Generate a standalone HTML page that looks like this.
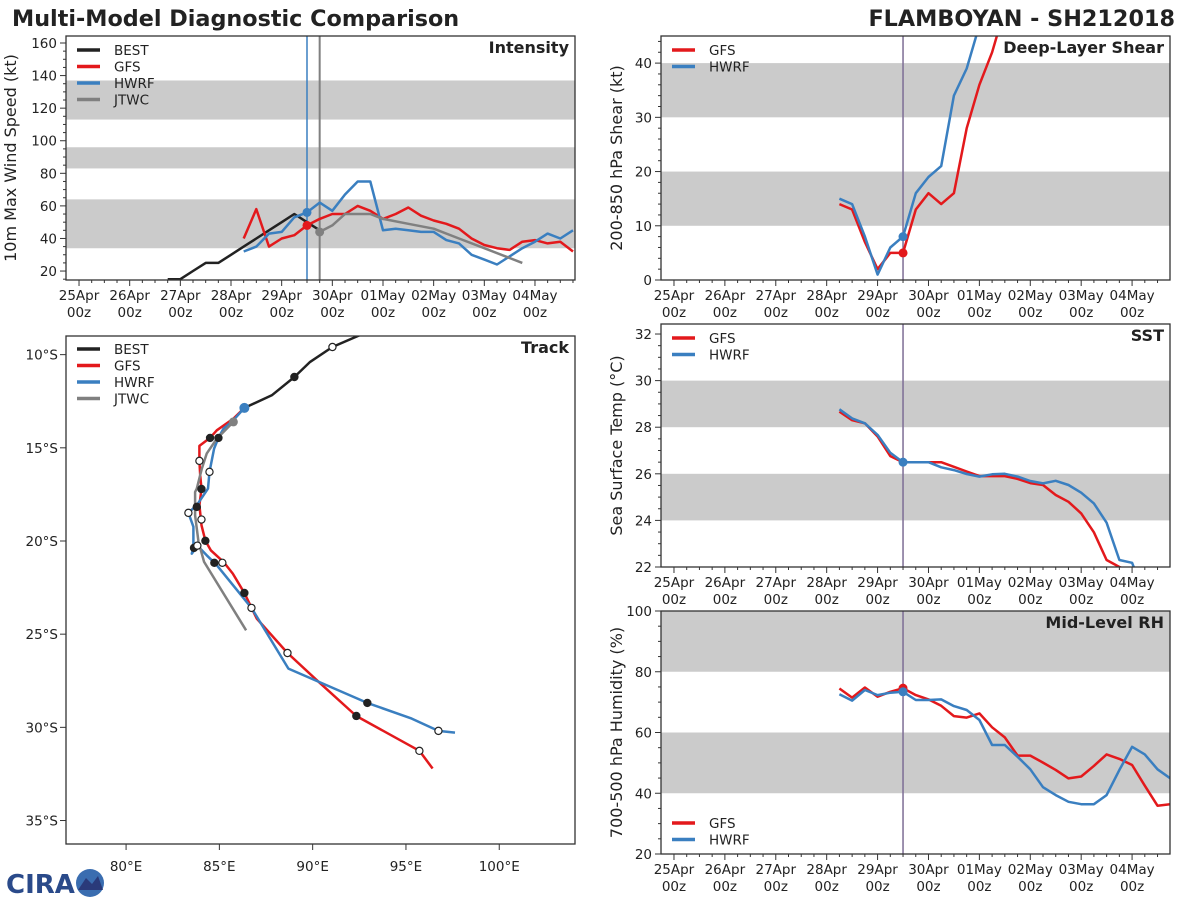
<!DOCTYPE html>
<html><head><meta charset="utf-8"><style>
html,body{margin:0;padding:0;background:#fff;width:1200px;height:900px;overflow:hidden}
svg text{font-family:"DejaVu Sans","Liberation Sans",sans-serif;fill:#222}
</style></head><body>
<svg id="chart" width="1200" height="900" viewBox="0 0 1200 900" xmlns="http://www.w3.org/2000/svg">
<text x="12" y="26" font-size="22.3" font-weight="bold">Multi-Model Diagnostic Comparison</text>
<text x="1175" y="26" font-size="22.3" font-weight="bold" text-anchor="end">FLAMBOYAN - SH212018</text>
<g>
<text x="6" y="893" font-size="26" font-weight="bold" style="fill:#2a4a8a" font-family="Liberation Serif,serif">CIRA</text>
<circle cx="90" cy="883" r="14" fill="#3a6db0"/>
<path d="M78 890 L86 878 L92 884 L98 876 L103 890 Z" fill="#2a3a7a"/>
</g>
</svg>
<script>
// ---------- Intensity data (days since 25Apr 00z) ----------
const bestT=[1.75,2.0,2.25,2.5,2.75,3.0,3.25,3.5,3.75,4.0,4.25,4.5,4.75];
const bestV=[15,15,20,25,25,30,35,40,45,50,55,50,45];
const gfsT=[3.25,3.5,3.75,4.0,4.25,4.5,4.75,5.0,5.25,5.5,5.75,6.0,6.25,6.5,6.75,7.0,7.25,7.5,7.75,8.0,8.25,8.5,8.75,9.0,9.25,9.5,9.75];
const gfsV=[40,58,35,40,42,48,52,55,55,60,57,52,55,59,54,51,49,46,40,36,34,33,38,39,37,38,32];
const hwrfT=gfsT;
const hwrfV=[32,35,43,44,53,56,62,57,67,75,75,45,46,45,44,44,39,37,30,27,24,29,34,38,43,40,45];
const jtwcT=[4.75,5.0,5.25,5.5,5.75,6.0,6.5,7.0,7.5,8.0,8.5,8.75];
const jtwcV=[44,48,55,55,55,52,49,46,40,34,28,25];
// ---------- Shear ----------
const shT=[3.25,3.5,3.75,4.0,4.25,4.5,4.75,5.0,5.25,5.5,5.75,6.0,6.25,6.5];
const shGfs=[14,13,7,2,5,5,13,16,14,16,28,36,42,50];
const shHwrf=[15,14,8,1,6,8,16,19,21,34,39,47,55,60];
// ---------- SST ----------
const sstT=[3.25,3.5,3.75,4.0,4.25,4.5,4.75,5.0,5.25,5.5,5.75,6.0,6.25,6.5,6.75,7.0,7.25,7.5,7.75,8.0,8.25,8.5,8.75,9.0,9.05];
const sstGfs=[28.67,28.3,28.17,27.6,26.76,26.5,26.5,26.5,26.5,26.3,26.1,25.9,25.9,25.9,25.78,25.6,25.52,25.09,24.8,24.3,23.49,22.3,22.0,21.8,21.8];
const sstHwrf=[28.77,28.38,28.17,27.67,26.9,26.5,26.5,26.5,26.28,26.16,25.99,25.88,25.98,26.0,25.88,25.69,25.59,25.7,25.52,25.19,24.73,23.9,22.3,22.18,21.9];
// ---------- RH ----------
const rhT=[3.25,3.5,3.75,4.0,4.25,4.5,4.75,5.0,5.25,5.5,5.75,6.0,6.25,6.5,6.75,7.0,7.25,7.5,7.75,8.0,8.25,8.5,8.75,9.0,9.25,9.5,9.75];
const rhGfs=[74.5,71.5,74.8,71.8,73.4,74.6,72.3,70.9,68.8,65.4,64.9,66.3,61.7,58.4,52.4,52.4,50.1,47.7,44.9,45.5,49,52.8,51.3,49.3,42.5,35.9,36.4];
const rhHwrf=[72.6,70.5,74,72.3,73.1,73.4,70.7,70.7,70.9,68.7,67.4,64.1,55.9,55.9,52,47.9,42,39.4,37.2,36.4,36.4,39.4,47.7,55.3,52.8,47.9,44.9];
// ---------- Track (lon E, lat S) ----------
const trkBestLon=[92.72,91.06,89.86,89.02,87.81,86.34];
const trkBestLat=[8.87,9.59,10.39,11.20,12.18,12.86];
const trkGfsLon=[86.34,85.75,84.86,84.50,83.93,83.93,83.97,84.04,83.93,84.04,84.25,84.54,85.22,85.72,86.34,87.00,88.65,90.22,92.34,95.72,96.43];
const trkGfsLat=[12.86,13.43,14.06,14.47,14.90,15.70,16.47,17.21,18.08,19.16,19.99,20.50,21.12,21.75,22.79,24.16,26.01,27.47,29.39,31.26,32.21];
const trkHwrfLon=[86.34,85.75,85.22,84.95,84.72,84.47,84.39,83.79,83.34,83.61,83.61,83.52,83.82,84.32,84.86,86.72,88.70,92.93,95.31,96.74,97.63];
const trkHwrfLat=[12.86,13.52,13.97,14.47,15.04,16.29,17.19,18.08,18.49,19.24,20.32,20.68,20.25,20.77,21.30,23.59,26.85,28.69,29.53,30.19,30.28];
const trkJtwcLon=[85.75,84.86,84.32,84.06,83.79,83.70,83.70,83.88,84.18,86.43];
const trkJtwcLat=[13.61,14.51,15.31,16.12,17.19,17.37,18.62,20.05,21.12,24.79];
const mkLon=[91.06,89.02,84.50,84.95,83.93,84.47,84.04,83.79,83.34,84.04,84.25,83.64,83.82,84.73,85.16,86.34,86.72,88.65,92.93,92.34,96.74,95.72];
const mkLat=[9.59,11.20,14.47,14.47,15.70,16.29,17.21,18.17,18.49,18.85,19.99,20.37,20.25,21.17,21.17,22.79,23.59,26.01,28.69,29.39,30.19,31.26];
const mkFilled=[0,1,1,1,0,0,1,1,0,0,1,1,0,1,0,1,0,0,1,1,0,0];
const dayLabels=["25Apr","26Apr","27Apr","28Apr","29Apr","30Apr","01May","02May","03May","04May"];

const svg=document.getElementById('chart');
const NS='http://www.w3.org/2000/svg';
function el(tag,attrs,parent){const e=document.createElementNS(NS,tag);for(const k in attrs)e.setAttribute(k,attrs[k]);(parent||svg).appendChild(e);return e;}
const C={best:'#222222',gfs:'#e3191c',hwrf:'#3a7fc0',jtwc:'#808080',band:'#cbcbcb'};

function makePanel(name,x0,y0,w,h,xmin,xmax,ymin,ymax){
  const g=el('g',{});
  
  
  const sx=v=>x0+(v-xmin)/(xmax-xmin)*w;
  const sy=v=>y0+h-(v-ymin)/(ymax-ymin)*h;
  return {g,sx,sy,x0,y0,w,h};
}
function clip(p,id){const cp=el('clipPath',{id:id});el('rect',{x:p.x0,y:p.y0,width:p.w,height:p.h},cp);return 'url(#'+id+')';}
function bands(p,list,cl){list.forEach(b=>{const r=el('rect',{x:p.x0,y:p.sy(b[1]),width:p.w,height:p.sy(b[0])-p.sy(b[1]),fill:C.band,'clip-path':cl},p.g);});}
function line(p,xs,ys,color,nm,cl,wdt){const d=xs.map((x,i)=>(i?'L':'M')+p.sx(x).toFixed(1)+' '+p.sy(ys[i]).toFixed(1)).join(' ');const e=el('path',{d:d,fill:'none',stroke:color,'stroke-width':wdt||2.5,'stroke-linejoin':'round','clip-path':cl},p.g);return e;}
function frame(p){const r=el('rect',{x:p.x0,y:p.y0,width:p.w,height:p.h,fill:'none',stroke:'#333','stroke-width':1.3},p.g);}
function timeAxis(p,labY){
  for(let d=0;d<=9.75;d+=0.25){const x=p.sx(d);if(x<p.x0||x>p.x0+p.w)continue;const maj=Math.abs(d-Math.round(d))<1e-6;el('line',{x1:x,x2:x,y1:p.y0+p.h,y2:p.y0+p.h+(maj?6:3),stroke:'#333'},p.g);}
  dayLabels.forEach((lb,i)=>{const x=p.sx(i);
    const t=el('text',{x:x,y:labY,'font-size':13.5,'text-anchor':'middle'},p.g);t.textContent=lb;
    const t2=el('text',{x:x,y:labY+17,'font-size':13.5,'text-anchor':'middle'},p.g);t2.textContent='00z';});
}
function yAxis(p,from,to,majStep,minStep,fmt){
  for(let v=from;v<=to+1e-6;v+=minStep){const y=p.sy(v);if(y<p.y0-0.5||y>p.y0+p.h+0.5)continue;const maj=Math.abs(v/majStep-Math.round(v/majStep))<1e-6;el('line',{x1:p.x0,x2:p.x0-(maj?6:3),y1:y,y2:y,stroke:'#333'},p.g);
    if(maj){const t=el('text',{x:p.x0-9,y:y+5,'font-size':13.5,'text-anchor':'end'},p.g);t.textContent=fmt?fmt(v):v;}}
}
function ylabel(p,txt,x){const t=el('text',{x:x,y:p.y0+p.h/2,'font-size':16,'text-anchor':'middle',transform:'rotate(-90 '+x+' '+(p.y0+p.h/2)+')'},p.g);t.textContent=txt;}
function ptitle(p,txt){const t=el('text',{x:p.x0+p.w-6,y:p.y0+17,'font-size':16,'font-weight':'bold','text-anchor':'end'},p.g);t.textContent=txt;}
function legend(p,items,y){items.forEach((it,i)=>{const yy=y+i*16.5;const l=el('line',{x1:p.x0+11,x2:p.x0+34,y1:yy,y2:yy,stroke:it[1],'stroke-width':3.5},p.g);const t=el('text',{x:p.x0+48,y:yy+5,'font-size':13.5},p.g);t.textContent=it[0];});}
function dot(p,x,y,color,r){const c=el('circle',{cx:p.sx(x),cy:p.sy(y),r:r||4.5,fill:color},p.g);}
function vline(p,d,color,w){const l=el('line',{x1:p.sx(d),x2:p.sx(d),y1:p.y0,y2:p.y0+p.h,stroke:color,'stroke-width':w||1.5},p.g);}

// Intensity
const pi=makePanel('intensity-panel',66,36,509,244,-0.257,9.79,14.5,164.3);
let ci=clip(pi,'ci');
bands(pi,[[34,64],[83,96],[113,137]],ci);
vline(pi,4.5,C.hwrf,1.5);vline(pi,4.75,C.jtwc,2);
line(pi,bestT,bestV,C.best,'best-intensity-line',ci);
line(pi,gfsT,gfsV,C.gfs,'gfs-intensity-line',ci);
line(pi,hwrfT,hwrfV,C.hwrf,'hwrf-intensity-line',ci);
line(pi,jtwcT,jtwcV,C.jtwc,'jtwc-intensity-line',ci);
dot(pi,gfsT[5],gfsV[5],C.gfs);dot(pi,hwrfT[5],hwrfV[5],C.hwrf);dot(pi,jtwcT[0],jtwcV[0],C.jtwc);
frame(pi);timeAxis(pi,300);yAxis(pi,15,160,20,5);
ylabel(pi,'10m Max Wind Speed (kt)',16);ptitle(pi,'Intensity');
legend(pi,[['BEST',C.best],['GFS',C.gfs],['HWRF',C.hwrf],['JTWC',C.jtwc]],50);

// Track
const pt=makePanel('track-panel',66,336,509,508,76.78,104.06,-36.26,-9.0);
let ct=clip(pt,'ct');
const neg=a=>a.map(v=>-v);
line(pt,trkBestLon,neg(trkBestLat),C.best,'best-track-line',ct);
line(pt,trkGfsLon,neg(trkGfsLat),C.gfs,'gfs-track-line',ct);
line(pt,trkHwrfLon,neg(trkHwrfLat),C.hwrf,'hwrf-track-line',ct);
line(pt,trkJtwcLon,neg(trkJtwcLat),C.jtwc,'jtwc-track-line',ct);
mkLon.forEach((lo,i)=>{const c=el('circle',{cx:pt.sx(lo),cy:pt.sy(-mkLat[i]),r:3.6,fill:mkFilled[i]?'#222':'#fff',stroke:'#222','stroke-width':1.2},pt.g);});
dot(pt,86.34,-12.86,C.hwrf,5);dot(pt,85.75,-13.61,C.jtwc,4.5);
frame(pt);
[10,15,20,25,30,35].forEach(la=>{const y=pt.sy(-la);el('line',{x1:66,x2:60,y1:y,y2:y,stroke:'#333'},pt.g);const t=el('text',{x:58,y:y+5,'font-size':13.5,'text-anchor':'end'},pt.g);t.textContent=la+'°S';});
[80,85,90,95,100].forEach(lo=>{const x=pt.sx(lo);el('line',{x1:x,x2:x,y1:844,y2:850,stroke:'#333'},pt.g);const t=el('text',{x:x,y:871,'font-size':13.5,'text-anchor':'middle'},pt.g);t.textContent=lo+'°E';});
ptitle(pt,'Track');
legend(pt,[['BEST',C.best],['GFS',C.gfs],['HWRF',C.hwrf],['JTWC',C.jtwc]],349);

// Shear
const ps=makePanel('shear-panel',661,36,509,244,-0.255,9.745,0,45);
let cs=clip(ps,'cs');
bands(ps,[[10,20],[30,40]],cs);
vline(ps,4.5,'#7d6d95',1.5);
line(ps,shT,shGfs,C.gfs,'gfs-shear-line',cs);
line(ps,shT,shHwrf,C.hwrf,'hwrf-shear-line',cs);
dot(ps,4.5,5,C.gfs);dot(ps,4.5,8,C.hwrf);
frame(ps);timeAxis(ps,300);yAxis(ps,0,45,10,2);
ylabel(ps,'200-850 hPa Shear (kt)',622);ptitle(ps,'Deep-Layer Shear');
legend(ps,[['GFS',C.gfs],['HWRF',C.hwrf]],50);

// SST
const pss=makePanel('sst-panel',661,324,509,243,-0.255,9.745,22,32.43);
let css=clip(pss,'css');
bands(pss,[[24,26],[28,30]],css);
vline(pss,4.5,'#7d6d95',1.5);
line(pss,sstT,sstGfs,C.gfs,'gfs-sst-line',css);
line(pss,sstT,sstHwrf,C.hwrf,'hwrf-sst-line',css);
dot(pss,4.5,26.5,C.hwrf);
frame(pss);timeAxis(pss,587);yAxis(pss,22,32,2,0.5);
ylabel(pss,'Sea Surface Temp (°C)',622);ptitle(pss,'SST');
legend(pss,[['GFS',C.gfs],['HWRF',C.hwrf]],338);

// RH
const pr=makePanel('rh-panel',661,611,509,243,-0.255,9.745,20,100);
let cr=clip(pr,'cr');
bands(pr,[[40,60],[80,100]],cr);
vline(pr,4.5,'#7d6d95',1.5);
line(pr,rhT,rhGfs,C.gfs,'gfs-rh-line',cr);
line(pr,rhT,rhHwrf,C.hwrf,'hwrf-rh-line',cr);
dot(pr,4.5,74.6,C.gfs);dot(pr,4.5,73.4,C.hwrf);
frame(pr);timeAxis(pr,874);yAxis(pr,20,100,20,5);
ylabel(pr,'700-500 hPa Humidity (%)',622);ptitle(pr,'Mid-Level RH');
legend(pr,[['GFS',C.gfs],['HWRF',C.hwrf]],823);
</script>
</body></html>
